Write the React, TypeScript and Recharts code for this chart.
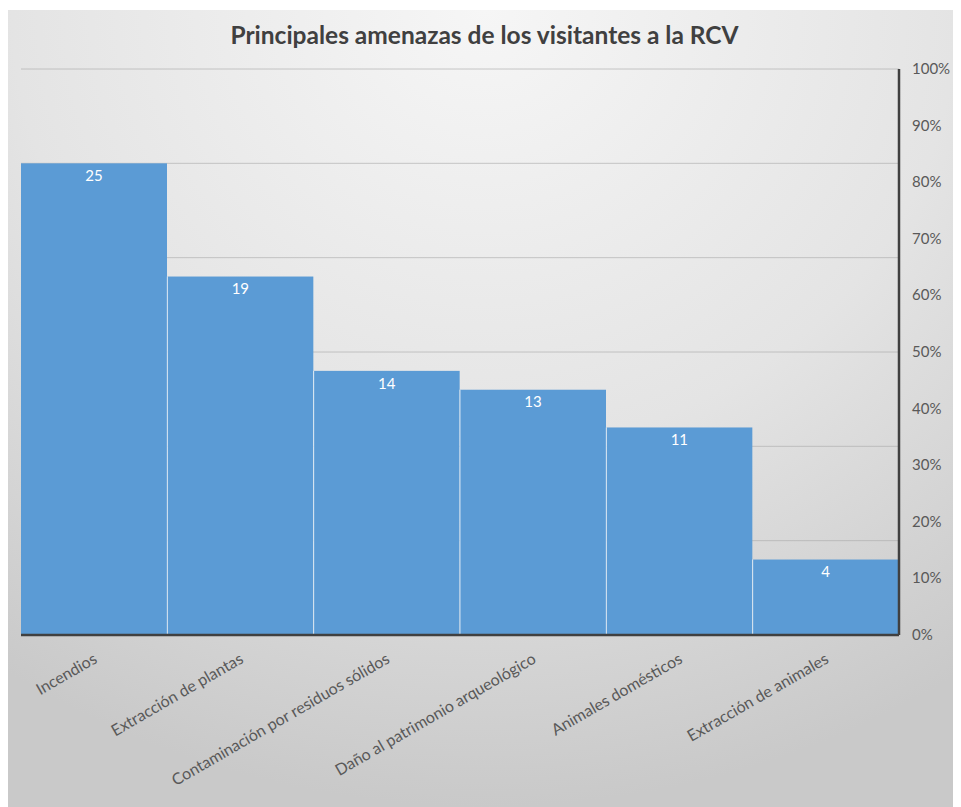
import { Bar, CartesianGrid, ComposedChart, LabelList, XAxis, YAxis } from "recharts";

const categories = [
  "Incendios",
  "Extracción de plantas",
  "Contaminación por residuos sólidos",
  "Daño al patrimonio arqueológico",
  "Animales domésticos",
  "Extracción de animales",
];
const counts = [25, 19, 14, 13, 11, 4];
const countTicks = [0, 5, 10, 15, 20, 25, 30];
const pctTicks = [0, 10, 20, 30, 40, 50, 60, 70, 80, 90, 100];

const data = categories.map((name, i) => ({ name, value: counts[i] }));

const FONT = "Lato, 'Open Sans', sans-serif";

function BarShape(props: any) {
  const { x, y, width, height, index } = props;
  return (
    <g>
      <rect x={x} y={y} width={width} height={height} fill="#5b9bd5" />
      {index > 0 && (
        <line x1={x} x2={x} y1={y} y2={y + height} stroke="#ffffff" strokeOpacity={0.7} strokeWidth={1} />
      )}
    </g>
  );
}

function CategoryTick(props: any) {
  const { x, y, payload } = props;
  return (
    <text
      transform={`translate(${x + 4},${y + 19}) rotate(-30)`}
      textAnchor="end"
      fontSize={16}
      fill="#595959"
      fontFamily={FONT}
    >
      {payload.value}
    </text>
  );
}

function PctTick(props: any) {
  const { x, y, payload } = props;
  return (
    <text x={x + 5} y={y} dy={5} textAnchor="start" fontSize={15} fill="#595959" fontFamily={FONT}>
      {`${payload.value}%`}
    </text>
  );
}

export default function App() {
  return (
    <div
      style={{
        width: 953,
        height: 797,
        marginTop: 2,
        position: "relative",
        background: "radial-gradient(ellipse 90% 100% at 50% 0%, #f6f6f6 0%, #e4e4e4 55%, #c9c9c9 100%)",
        fontFamily: FONT,
      }}
    >
      <div
        style={{
          position: "absolute",
          top: 10,
          left: 0,
          width: 953,
          textAlign: "center",
          fontSize: 24.5,
          fontWeight: 700,
          color: "#404040",
        }}
      >
        Principales amenazas de los visitantes a la RCV
      </div>
      <ComposedChart
        width={953}
        height={797}
        data={data}
        barCategoryGap={0}
        margin={{ top: 59, right: 12, left: 13, bottom: 0 }}
      >
        <CartesianGrid yAxisId="count" vertical={false} stroke="#a8a8a8" strokeOpacity={0.6} />
        <XAxis
          dataKey="name"
          interval={0}
          tickLine={false}
          axisLine={{ stroke: "#404040", strokeWidth: 2.5 }}
          tick={<CategoryTick />}
          height={172}
        />
        <YAxis yAxisId="count" domain={[0, 30]} ticks={countTicks} hide />
        <YAxis
          yAxisId="pct"
          type="number"
          orientation="right"
          domain={[0, 100]}
          allowDataOverflow
          ticks={pctTicks}
          interval={0}
          tickLine={false}
          axisLine={{ stroke: "#404040", strokeWidth: 2.5 }}
          tick={<PctTick />}
          width={50}
        />
        <Bar yAxisId="count" dataKey="value" shape={<BarShape />} isAnimationActive={false}>
          <LabelList dataKey="value" position="insideTop" offset={7} fill="#ffffff" fontSize={15} fontFamily={FONT} />
        </Bar>
      </ComposedChart>
    </div>
  );
}
